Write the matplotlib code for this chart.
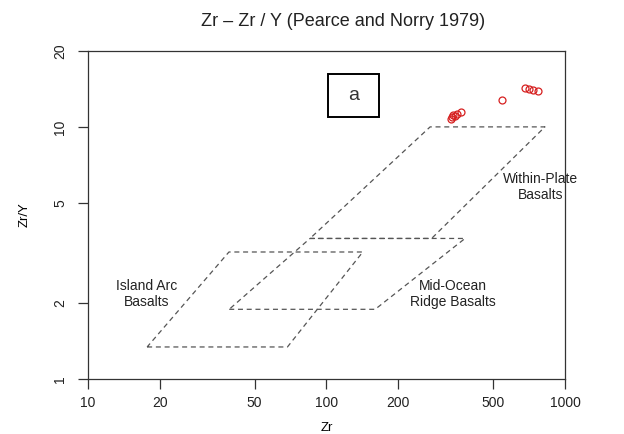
import matplotlib
matplotlib.use("Agg")
import matplotlib.pyplot as plt
from matplotlib.patches import Rectangle

plt.rcParams['font.family'] = ['Liberation Sans', 'DejaVu Sans']

# field boundaries (Zr, Zr/Y)
iab_zr = [17.7, 68.6, 142, 39.0, 17.7]
iab_zry = [1.34, 1.34, 3.19, 3.19, 1.34]

morb_zr = [39.1, 160, 381, 85.3, 39.1]
morb_zry = [1.89, 1.89, 3.61, 3.61, 1.89]

wpb_zr = [85.3, 276, 824, 272, 85.3]
wpb_zry = [3.61, 3.61, 10.0, 10.0, 3.61]

# samples
zr = [332.7, 335.9, 339.2, 345.8, 352.6, 366.5, 542.9, 679.7, 708.6, 731.9, 768.1]
zry = [10.73, 10.93, 11.13, 11.03, 11.23, 11.44, 12.79, 14.23, 14.10, 13.98, 13.89]

xticks = [10, 20, 50, 100, 200, 500, 1000]
yticks = [1, 2, 5, 10, 20]

fig = plt.figure(figsize=(6.24, 4.34), dpi=100)
ax = fig.add_axes([0.141, 0.1267, 0.7644, 0.7558])
ax.set_xscale('log')
ax.set_yscale('log')
ax.set_xlim(10, 1000)
ax.set_ylim(1, 20)

dash = dict(color='#555555', lw=0.9, ls=(0, (4, 3)))
ax.plot(iab_zr, iab_zry, **dash)
ax.plot(morb_zr, morb_zry, **dash)
ax.plot(wpb_zr, wpb_zry, **dash)

ax.plot(zr, zry, 'o', mfc='none', mec='#d62020', ms=5, mew=0.9)

lab = dict(fontsize=10, color='#222222', ha='center', va='center', linespacing=1.15)
ax.text(17.7, 2.17, 'Island Arc\nBasalts', **lab)
ax.text(340, 2.17, 'Mid-Ocean\nRidge Basalts', **lab)
ax.text(790, 5.77, 'Within-Plate\nBasalts', **lab)

# panel tag
ax.add_patch(Rectangle((0.503, 0.798), 0.107, 0.131, transform=ax.transAxes,
                       fc='white', ec='black', lw=1.4, zorder=5))
ax.text(0.5566, 0.864, 'a', transform=ax.transAxes, fontsize=14, color='#333333',
        ha='center', va='center', zorder=6)

ax.set_xticks(xticks)
ax.set_xticklabels([str(t) for t in xticks])
ax.set_yticks(yticks)
ax.set_yticklabels([str(t) for t in yticks], rotation=90, va='center')
ax.minorticks_off()
ax.tick_params(length=7, width=0.9, labelsize=10, pad=5, color='#333333', labelcolor='#222222')
ax.tick_params(axis='y', pad=8)
for s in ax.spines.values():
    s.set_linewidth(0.9)
    s.set_color('#333333')

ax.set_xlabel('Zr', fontsize=9.5, labelpad=9)
ax.set_ylabel('Zr/Y', fontsize=9.5, labelpad=16)
fig.text(343 / 624, 1 - 21.7 / 434, 'Zr \u2013 Zr / Y (Pearce and Norry 1979)',
         fontsize=13, color='#222222', ha='center', va='center')

fig.savefig('out.png', dpi=100)
